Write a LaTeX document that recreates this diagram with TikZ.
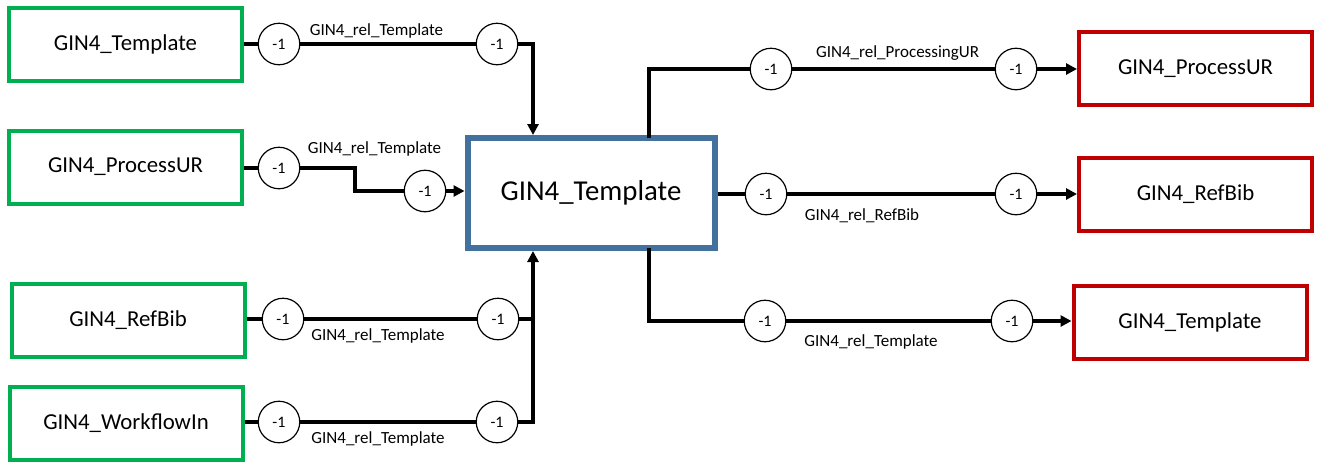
\documentclass[tikz,border=0pt]{standalone}
\usepackage{fontspec}
\setmainfont{Carlito}
\usetikzlibrary{arrows.meta}
\definecolor{gr}{HTML}{00B050}
\definecolor{rd}{HTML}{C00000}
\definecolor{bl}{HTML}{41719C}
\begin{document}
\begin{tikzpicture}[x=1pt,y=-1pt,
  srcbox/.style={draw=gr,line width=4pt,minimum width=233pt,minimum height=73pt,inner sep=0pt,font=\fontsize{22.8}{27}\selectfont},
  dstbox/.style={srcbox,draw=rd},
  mainbox/.style={draw=bl,line width=6pt,minimum width=247pt,minimum height=110pt,inner sep=0pt,font=\fontsize{28.8}{34}\selectfont},
  card/.style={circle,draw,line width=1.2pt,fill=white,minimum size=41.5pt,inner sep=0pt,font=\fontsize{16}{19}\selectfont},
  wire/.style={line width=3.6pt},
  arr/.style={wire,-{Triangle[length=11pt,width=11pt]}},
  lab/.style={anchor=base,inner sep=0pt,font=\fontsize{17}{20}\selectfont}
]
\useasboundingbox (0,0) rectangle (1317,464);

% boxes
\node[srcbox] (L1) at (125.5,44) {GIN4\_Template};
\node[srcbox] (L2) at (125.5,167) {GIN4\_ProcessUR};
\node[srcbox] (L3) at (128,320) {GIN4\_RefBib};
\node[srcbox] (L4) at (126,423) {GIN4\_WorkflowIn};
\node[mainbox] (C) at (591,193) {GIN4\_Template};
\node[dstbox] (R1) at (1195.5,68.5) {GIN4\_ProcessUR};
\node[dstbox] (R2) at (1195.5,194) {GIN4\_RefBib};
\node[dstbox] (R3) at (1190,322) {GIN4\_Template};

% junction coordinates
\coordinate (inT) at (533,135);
\coordinate (inB) at (533,251);
\coordinate (jn) at (533,319);
\coordinate (bend) at (355,168);
\coordinate (outT) at (649,138);
\coordinate (outB) at (649,248);

% cardinality circles
\node[card] (a1) at (279,44) {-1};
\node[card] (a2) at (497,44) {-1};
\node[card] (b1) at (279,168) {-1};
\node[card] (b2) at (425,191) {-1};
\node[card] (c1) at (283,319) {-1};
\node[card] (c2) at (498,319) {-1};
\node[card] (d1) at (279,422) {-1};
\node[card] (d2) at (497,422) {-1};
\node[card] (e1) at (771,69) {-1};
\node[card] (e2) at (1016,69) {-1};
\node[card] (f1) at (766,194) {-1};
\node[card] (f2) at (1016,194) {-1};
\node[card] (g1) at (765,321) {-1};
\node[card] (g2) at (1012,321) {-1};

% connectors
\draw[wire] (L1.east |- a1) -- (a1);
\draw[wire] (a1) -- (a2);
\draw[arr] (a2) -| (inT);

\draw[wire] (L2.east |- b1) -- (b1);
\draw[wire] (b1) -- (bend) |- (b2);
\draw[arr] (b2) -- (C.west |- b2);

\draw[wire] (L3.east |- c1) -- (c1);
\draw[wire] (c1) -- (c2);
\draw[arr] (c2) -| (inB);

\draw[wire] (L4.east |- d1) -- (d1);
\draw[wire] (d1) -- (d2);
\draw[wire] (d2) -| (jn);

\draw[wire] (outT) |- (e1);
\draw[wire] (e1) -- (e2);
\draw[arr] (e2) -- (R1.west |- e2);

\draw[wire] (C.east |- f1) -- (f1);
\draw[wire] (f1) -- (f2);
\draw[arr] (f2) -- (R2.west |- f2);

\draw[wire] (outB) |- (g1);
\draw[wire] (g1) -- (g2);
\draw[arr] (g2) -- (R3.west |- g2);

% labels
\node[lab] (la) at (376.5,35) {GIN4\_rel\_Template};
\node[lab] (lb) at (374.5,153) {GIN4\_rel\_Template};
\node[lab] (lc) at (378,340) {GIN4\_rel\_Template};
\node[lab] (ld) at (378,443) {GIN4\_rel\_Template};
\node[lab] (le) at (897.5,57) {GIN4\_rel\_ProcessingUR};
\node[lab] (lf) at (862,220) {GIN4\_rel\_RefBib};
\node[lab] (lg) at (871,346) {GIN4\_rel\_Template};
\end{tikzpicture}
\end{document}
